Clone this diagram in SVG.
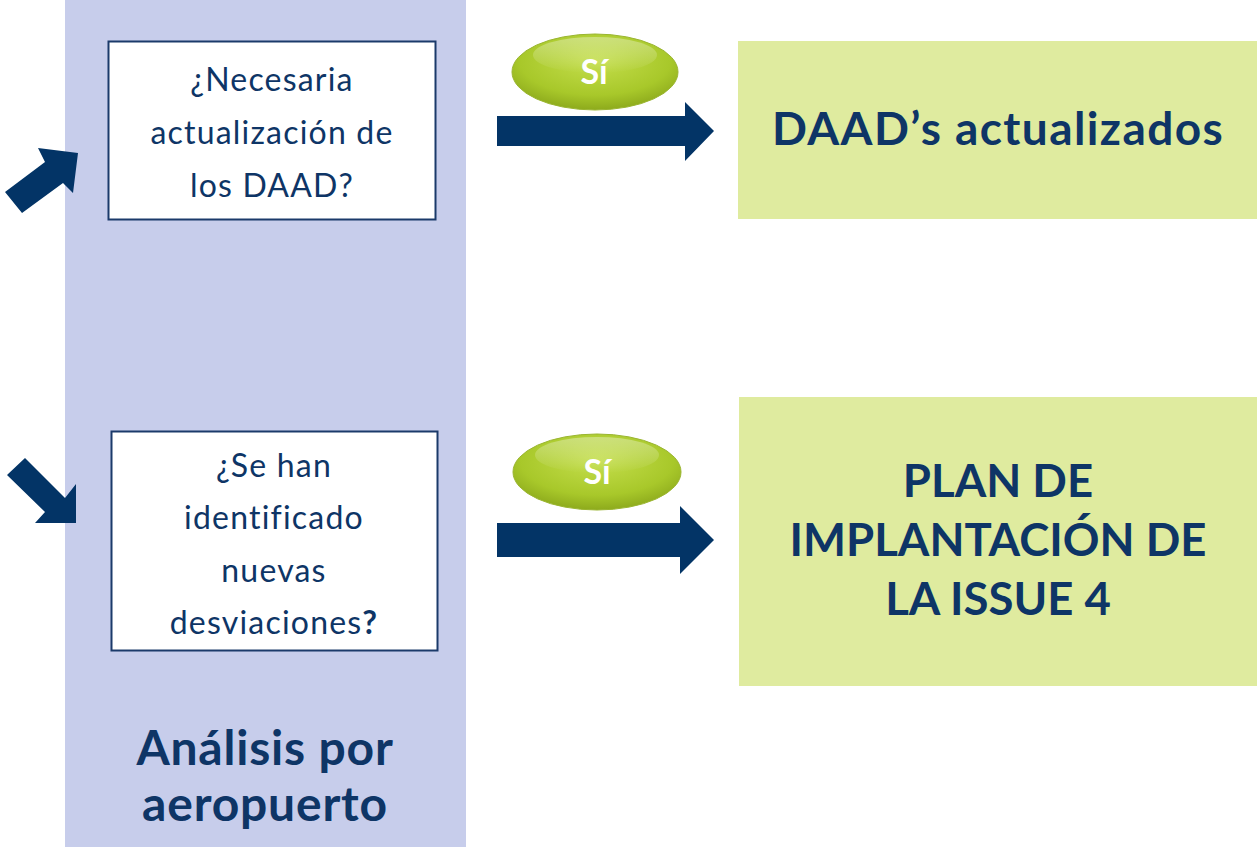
<svg xmlns="http://www.w3.org/2000/svg" width="1257" height="847" viewBox="0 0 1257 847">
<defs>
<style>
.q{font-family:Lato,"Open Sans","Liberation Sans",sans-serif;font-size:32px;letter-spacing:1.2px;fill:#0E3566;text-anchor:middle}
.b{font-family:Lato,"Open Sans","Liberation Sans",sans-serif;font-weight:bold;fill:#0E3566;text-anchor:middle}
.box{fill:#fff;stroke:#1B3A6A;stroke-width:2}
.green{fill:#DFEB9F}
.nav{fill:#033466}
.si{font-family:Lato,"Open Sans","Liberation Sans",sans-serif;font-weight:bold;font-size:34px;fill:#fff;text-anchor:middle}
</style>
<radialGradient id="eg" cx="50%" cy="35%" r="65%">
<stop offset="0" stop-color="#C4DE4C"/>
<stop offset="0.7" stop-color="#A8C82A"/>
<stop offset="1" stop-color="#8DAA1C"/>
</radialGradient>
<linearGradient id="hl" x1="0" y1="0" x2="0" y2="1">
<stop offset="0" stop-color="#fff" stop-opacity="0.35"/>
<stop offset="1" stop-color="#fff" stop-opacity="0"/>
</linearGradient>
</defs>
<rect width="1257" height="847" fill="#fff"/>
<g id="column">
<rect x="65" y="0" width="401" height="847" fill="#C7CDEB"/>
<text class="b" x="265" y="765" font-size="48" letter-spacing="0.8">Análisis por</text>
<text class="b" x="265" y="821" font-size="48" letter-spacing="0.8">aeropuerto</text>
</g>
<g id="q1">
<rect class="box" x="108.5" y="41.5" width="327" height="178"/>
<text class="q" x="272" y="91">¿Necesaria</text>
<text class="q" x="272" y="144">actualización de</text>
<text class="q" x="272" y="197">los DAAD?</text>
</g>
<g id="q2">
<rect class="box" x="111.5" y="431.5" width="326" height="219"/>
<text class="q" x="274" y="477">¿Se han</text>
<text class="q" x="274" y="529">identificado</text>
<text class="q" x="274" y="582">nuevas</text>
<text class="q" x="274" y="634">desviaciones<tspan font-weight="bold">?</tspan></text>
</g>
<g id="r1">
<rect class="green" x="738" y="41" width="519" height="178"/>
<text class="b" x="998" y="145" font-size="46" letter-spacing="1.4">DAAD’s actualizados</text>
</g>
<g id="r2">
<rect class="green" x="739" y="397" width="518" height="289"/>
<text class="b" x="998" y="497" font-size="45.5">PLAN DE</text>
<text class="b" x="998" y="556" font-size="45.5">IMPLANTACIÓN DE</text>
<text class="b" x="998" y="615" font-size="45.5">LA ISSUE 4</text>
</g>
<g id="si1">
<ellipse cx="595" cy="72" rx="83" ry="38" fill="url(#eg)" stroke="#9AB530" stroke-width="1"/>
<ellipse cx="595" cy="55" rx="62" ry="18" fill="url(#hl)"/>
<text class="si" x="594" y="84">Sí</text>
</g>
<g id="si2">
<ellipse cx="597" cy="472" rx="84" ry="38" fill="url(#eg)" stroke="#9AB530" stroke-width="1"/>
<ellipse cx="597" cy="455" rx="62" ry="18" fill="url(#hl)"/>
<text class="si" x="597" y="484">Sí</text>
</g>
<g id="connectors">
<polygon class="nav" points="497,116 685,116 685,102 714,131 685,161 685,146 497,146"/>
<polygon class="nav" points="497,523 680,523 680,506 714,540 680,574 680,557 497,557"/>
<polygon class="nav" points="5,192 45,162 38,148 78,153 73,193 63,183 22,213"/>
<polygon class="nav" points="7,475 25,458 65,498 76,484 76,523 35,523 45,512"/>
</g>
</svg>
